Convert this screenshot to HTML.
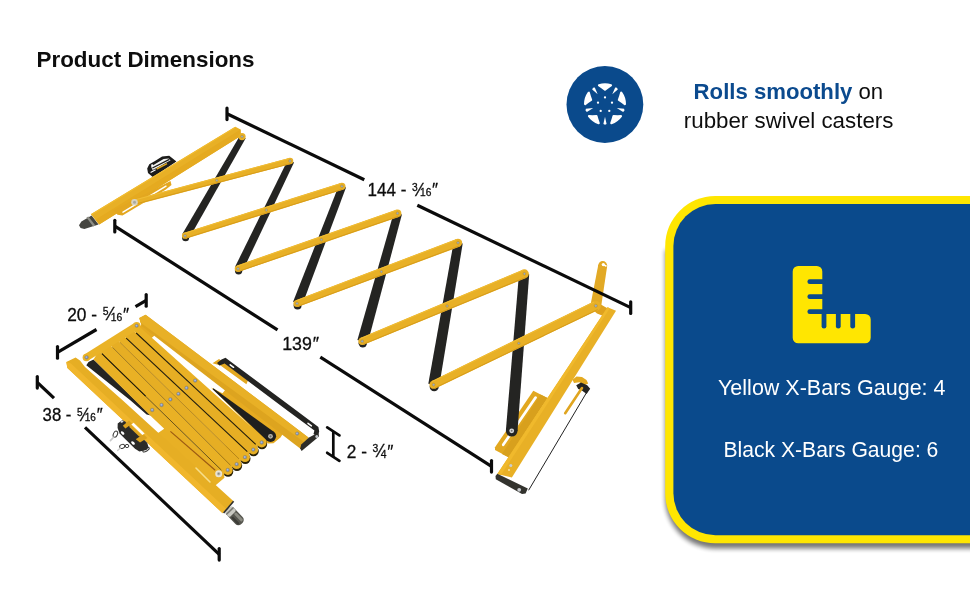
<!DOCTYPE html>
<html lang="en">
<head>
<meta charset="utf-8">
<title>Product Dimensions</title>
<style>
html,body{margin:0;padding:0;background:#fff;}
body{width:970px;height:600px;overflow:hidden;font-family:"Liberation Sans",sans-serif;}
svg{display:block;}
text{font-family:"Liberation Sans",sans-serif;}
</style>
</head>
<body>
<svg width="970" height="600" viewBox="0 0 970 600">
<defs>
<filter id="sh" x="-10%" y="-10%" width="120%" height="130%"><feGaussianBlur stdDeviation="2.6"/></filter>
</defs>
<rect width="970" height="600" fill="#fff"/>
<g style="opacity:0.999">
<!-- parts -->
<text x="36.5" y="66.7" font-size="21.6" font-weight="bold" fill="#0d0d0d" textLength="218" lengthAdjust="spacingAndGlyphs">Product Dimensions</text>
<circle cx="604.9" cy="104.5" r="38.40" fill="#0A4A8C" />
<g transform="translate(605.0 104.3)" fill="#fff">
<path d="M5.98 -18.98 A19.90 19.90 0 0 0 -5.98 -18.98 Q-3.05 -17.13 0.00 -14.60 Q3.05 -17.13 5.98 -18.98 Z" stroke="#fff" stroke-width="2.2" stroke-linejoin="round"/>
<polygon points="-7.3,-10.0 -10.2,-16.8 -12.0,-16.6 -12.8,-14.9" fill="#fff" />
<path d="M-16.20 -11.56 A19.90 19.90 0 0 0 -19.90 -0.17 Q-17.23 -2.39 -13.89 -4.51 Q-15.34 -8.19 -16.20 -11.56 Z" stroke="#fff" stroke-width="2.2" stroke-linejoin="round"/>
<polygon points="-11.8,3.8 -19.1,4.5 -19.5,6.3 -18.1,7.6" fill="#fff" />
<path d="M-16.00 11.84 A19.90 19.90 0 0 0 -6.31 18.87 Q-7.60 15.65 -8.58 11.81 Q-12.53 12.06 -16.00 11.84 Z" stroke="#fff" stroke-width="2.2" stroke-linejoin="round"/>
<polygon points="-0.0,12.4 -1.6,19.6 -0.0,20.5 1.6,19.6" fill="#fff" />
<path d="M6.31 18.87 A19.90 19.90 0 0 0 16.00 11.84 Q12.53 12.06 8.58 11.81 Q7.60 15.65 6.31 18.87 Z" stroke="#fff" stroke-width="2.2" stroke-linejoin="round"/>
<polygon points="11.8,3.8 18.1,7.6 19.5,6.3 19.1,4.5" fill="#fff" />
<path d="M19.90 -0.17 A19.90 19.90 0 0 0 16.20 -11.56 Q15.34 -8.19 13.89 -4.51 Q17.23 -2.39 19.90 -0.17 Z" stroke="#fff" stroke-width="2.2" stroke-linejoin="round"/>
<polygon points="7.3,-10.0 12.8,-14.9 12.0,-16.6 10.2,-16.8" fill="#fff" />
<circle cx="0.0" cy="-6.9" r="1.15" fill="#fff" />
<circle cx="7.0" cy="-1.6" r="1.15" fill="#fff" />
<circle cx="-7.0" cy="-1.6" r="1.15" fill="#fff" />
<circle cx="-4.3" cy="6.6" r="1.15" fill="#fff" />
<circle cx="4.3" cy="6.6" r="1.15" fill="#fff" />
</g>
<text x="693.6" y="99.2" font-size="22" fill="#0d0d0d" textLength="189.6" lengthAdjust="spacingAndGlyphs"><tspan font-weight="bold" fill="#0B4A8E">Rolls smoothly</tspan> on</text>
<text x="683.8" y="128.2" font-size="22" fill="#0d0d0d" textLength="209.6" lengthAdjust="spacingAndGlyphs">rubber swivel casters</text>
<path d="M1000 548.4 H716.5 A50 50 0 0 1 665.4 497 V250 H1000 Z" fill="#000" opacity="0.55" filter="url(#sh)"/>
<path d="M1000 196 H715.2 A50 50 0 0 0 665.2 246 V493.3 A50 50 0 0 0 715.2 543.3 H1000 Z" fill="#FFE600"/>
<path d="M1000 204 H715.4 A42 42 0 0 0 673.4 246 V493.2 A42 42 0 0 0 715.4 535.2 H1000 Z" fill="#0A4A8C"/>
<path d="M798.2 266 H816.8 A5.5 5.5 0 0 1 822.3 271.5 V314 H865.2 A5.5 5.5 0 0 1 870.7 319.5 V337.8 A5.5 5.5 0 0 1 865.2 343.3 H798.2 A5.5 5.5 0 0 1 792.7 337.8 V271.5 A5.5 5.5 0 0 1 798.2 266 Z" fill="#FFE600"/>
<line x1="809.8" y1="281.7" x2="823.0" y2="281.7" stroke="#0A4A8C" stroke-width="4.80" stroke-linecap="round"/>
<line x1="809.8" y1="296.7" x2="823.0" y2="296.7" stroke="#0A4A8C" stroke-width="4.80" stroke-linecap="round"/>
<line x1="809.8" y1="311.7" x2="823.0" y2="311.7" stroke="#0A4A8C" stroke-width="4.80" stroke-linecap="round"/>
<line x1="824.0" y1="313.0" x2="824.0" y2="326.2" stroke="#0A4A8C" stroke-width="4.80" stroke-linecap="round"/>
<line x1="838.3" y1="313.0" x2="838.3" y2="326.2" stroke="#0A4A8C" stroke-width="4.80" stroke-linecap="round"/>
<line x1="852.7" y1="313.0" x2="852.7" y2="326.2" stroke="#0A4A8C" stroke-width="4.80" stroke-linecap="round"/>
<text x="718" y="395" font-size="22.8" fill="#fff" textLength="227.5" lengthAdjust="spacingAndGlyphs">Yellow X-Bars Gauge: 4</text>
<text x="723.4" y="457.3" font-size="22.8" fill="#fff" textLength="215" lengthAdjust="spacingAndGlyphs">Black X-Bars Gauge: 6</text>
<!-- gate1 -->
<polygon points="533.3,390.8 547.5,398.0 509.0,457.5 495.0,450.0 495.0,447.3" fill="#E2A820" />
<polygon points="540.5,394.5 547.5,398.0 509.0,457.5 502.0,454.0" fill="#D8A01D" />
<line x1="535.6" y1="397.6" x2="503.2" y2="444.8" stroke="#fff" stroke-width="2.70" stroke-linecap="round"/>
<polygon points="240.3,135.0 182.5,233.7 189.5,237.7 245.7,138.2" fill="#242422" />
<polygon points="288.0,159.6 235.1,266.8 242.9,270.6 294.0,162.4" fill="#242422" />
<polygon points="339.0,185.0 293.1,301.8 302.1,305.2 346.0,187.6" fill="#242422" />
<polygon points="393.9,212.2 357.4,339.9 367.8,342.7 401.9,214.4" fill="#242422" />
<polygon points="453.7,242.0 428.3,383.8 439.3,385.6 462.7,243.6" fill="#242422" />
<polygon points="519.0,273.4 505.9,430.3 517.5,431.3 529.2,274.2" fill="#242422" />
<circle cx="511.7" cy="430.8" r="5.80" fill="#242422" />
<polygon points="147.2,168.4 149.3,164.2 155.0,161.0 162.1,156.4 169.2,155.8 172.4,158.3 176.4,161.6 153.0,177.2 148.0,172.9" fill="#1c1c1b" />
<polygon points="151.0,166.6 156.0,163.6 163.6,159.0 168.6,158.6 170.6,160.2 158.0,167.2 152.6,170.0" fill="#f4f4f2" />
<line x1="152.4" y1="168.0" x2="169.4" y2="159.4" stroke="#1c1c1b" stroke-width="1.30" stroke-linecap="butt"/>
<circle cx="152.2" cy="165.3" r="1.10" fill="#fff" />
<line x1="156.6" y1="169.0" x2="167.0" y2="163.6" stroke="#E2A820" stroke-width="1.50" stroke-linecap="butt"/>
<line x1="150.6" y1="172.6" x2="155.6" y2="169.8" stroke="#fff" stroke-width="1.20" stroke-linecap="butt"/>
<polygon points="91.6,215.4 98.6,224.6 84.4,228.9 80.6,228.0 79.0,225.2 81.4,221.6" fill="#454540" />
<polygon points="88.4,216.6 95.4,225.6 93.2,226.4 86.4,217.6" fill="#8e8e86" />
<polygon points="235.4,126.7 240.6,129.6 240.8,136.5 237.0,138.2 99.2,224.4 90.8,214.2" fill="#E8B026" />
<polygon points="240.6,129.6 240.8,136.5 237.0,138.2 99.2,224.4 95.4,219.8" fill="#E5AA20" />
<line x1="235.4" y1="127.2" x2="91.5" y2="214.4" stroke="#F2BC30" stroke-width="1.20" stroke-linecap="butt"/>
<polygon points="113.5,210.3 170.5,181.0 171.5,185.0 165.5,189.8 122.5,215.5 117.5,214.8" fill="#E3A720" />
<line x1="123.0" y1="212.2" x2="166.0" y2="186.2" stroke="#fff" stroke-width="1.50" stroke-linecap="round"/>
<polygon points="592.5,309.5 600.0,304.0 609.5,309.5 604.5,316.5 597.0,313.5" fill="#DFA21E" />
<polygon points="601.1,306.7 607.1,266.4 598.3,264.8 590.5,304.9" fill="#E2A925" />
<circle cx="595.8" cy="305.8" r="5.40" fill="#E2A925" />
<circle cx="602.7" cy="265.6" r="4.50" fill="#E2A925" />
<circle cx="603.3" cy="264.6" r="1.60" fill="#fff" />
<line x1="603.3" y1="264.6" x2="606.5" y2="266.2" stroke="#fff" stroke-width="1.60" stroke-linecap="butt"/>
<polygon points="607.5,307.3 616.0,310.8 511.9,477.4 497.3,474.0" fill="#E8B026" />
<polygon points="607.5,307.3 609.8,308.3 501.0,474.9 497.3,474.0" fill="#F0B92C" />
<line x1="587.2" y1="391.5" x2="528.6" y2="490.3" stroke="#222" stroke-width="1.00" stroke-linecap="butt"/>
<polygon points="572.5,379.8 576.5,376.4 582.0,377.0 586.5,380.0 588.2,383.6 584.0,385.4 579.5,382.2 574.0,383.0" fill="#E4AA21" />
<polygon points="576.2,385.2 581.0,382.4 587.2,385.2 590.2,388.8 586.6,394.0 581.6,390.2 578.2,389.0" fill="#252523" />
<line x1="582.0" y1="388.0" x2="565.2" y2="413.2" stroke="#E0A520" stroke-width="2.60" stroke-linecap="round"/>
<polygon points="497.3,473.8 527.8,488.6 525.6,493.6 522.0,494.0 495.8,479.2 495.5,476.0" fill="#33332e" />
<circle cx="519.2" cy="489.8" r="1.90" fill="#c9ccd0" />
<circle cx="510.8" cy="465.6" r="1.50" fill="#c9ccd0" />
<circle cx="509.0" cy="470.0" r="0.90" fill="#f6e7b0" />
<polygon points="135.2,204.9 290.8,164.1 289.2,157.9 133.8,199.5" fill="#E8B026" />
<circle cx="134.5" cy="202.2" r="2.80" fill="#E8B026" />
<circle cx="290.0" cy="161.0" r="3.25" fill="#E8B026" />
<line x1="135.0" y1="204.2" x2="290.7" y2="163.5" stroke="#D79C1A" stroke-width="1.00" stroke-linecap="butt"/>
<line x1="134.0" y1="200.2" x2="289.3" y2="158.5" stroke="#F1BD34" stroke-width="1.00" stroke-linecap="butt"/>
<circle cx="185.6" cy="237.7" r="3.50" fill="#242422" />
<polygon points="185.9,238.7 343.0,189.7 340.8,182.9 184.1,232.7" fill="#E8B026" />
<circle cx="185.0" cy="235.7" r="3.10" fill="#E8B026" />
<circle cx="341.9" cy="186.3" r="3.60" fill="#E8B026" />
<line x1="185.7" y1="238.0" x2="342.8" y2="189.1" stroke="#D79C1A" stroke-width="1.00" stroke-linecap="butt"/>
<line x1="184.3" y1="233.4" x2="341.0" y2="183.5" stroke="#F1BD34" stroke-width="1.00" stroke-linecap="butt"/>
<circle cx="238.6" cy="270.7" r="3.70" fill="#242422" />
<polygon points="239.1,271.8 398.8,216.9 396.2,209.7 236.9,265.6" fill="#E8B026" />
<circle cx="238.0" cy="268.7" r="3.30" fill="#E8B026" />
<circle cx="397.5" cy="213.3" r="3.85" fill="#E8B026" />
<line x1="238.9" y1="271.2" x2="398.5" y2="216.3" stroke="#D79C1A" stroke-width="1.00" stroke-linecap="butt"/>
<line x1="237.1" y1="266.2" x2="396.5" y2="210.3" stroke="#F1BD34" stroke-width="1.00" stroke-linecap="butt"/>
<circle cx="297.6" cy="305.5" r="3.95" fill="#242422" />
<polygon points="298.3,306.8 459.5,246.7 456.5,238.9 295.7,300.2" fill="#E8B026" />
<circle cx="297.0" cy="303.5" r="3.55" fill="#E8B026" />
<circle cx="458.0" cy="242.8" r="4.15" fill="#E8B026" />
<line x1="298.0" y1="306.2" x2="459.2" y2="246.0" stroke="#D79C1A" stroke-width="1.00" stroke-linecap="butt"/>
<line x1="296.0" y1="300.8" x2="456.8" y2="239.6" stroke="#F1BD34" stroke-width="1.00" stroke-linecap="butt"/>
<circle cx="362.8" cy="343.3" r="4.20" fill="#242422" />
<polygon points="363.7,344.8 526.1,277.9 522.7,269.7 360.7,337.8" fill="#E8B026" />
<circle cx="362.2" cy="341.3" r="3.80" fill="#E8B026" />
<circle cx="524.4" cy="273.8" r="4.45" fill="#E8B026" />
<line x1="363.4" y1="344.2" x2="525.8" y2="277.3" stroke="#D79C1A" stroke-width="1.00" stroke-linecap="butt"/>
<line x1="361.0" y1="338.4" x2="523.0" y2="270.3" stroke="#F1BD34" stroke-width="1.00" stroke-linecap="butt"/>
<circle cx="434.2" cy="386.7" r="4.55" fill="#242422" />
<polygon points="435.4,388.4 597.9,310.2 593.7,301.4 431.8,381.0" fill="#E8B026" />
<circle cx="433.6" cy="384.7" r="4.15" fill="#E8B026" />
<circle cx="595.8" cy="305.8" r="4.90" fill="#E8B026" />
<line x1="435.1" y1="387.8" x2="597.6" y2="309.6" stroke="#D79C1A" stroke-width="1.00" stroke-linecap="butt"/>
<line x1="432.1" y1="381.6" x2="594.0" y2="302.0" stroke="#F1BD34" stroke-width="1.00" stroke-linecap="butt"/>
<circle cx="242.0" cy="136.6" r="3.60" fill="#E8B026" />
<circle cx="134.5" cy="202.2" r="3.30" fill="#d8d2c0" />
<circle cx="134.5" cy="202.2" r="1.50" fill="#a9a9a0" />
<circle cx="511.7" cy="430.8" r="2.40" fill="#d9dadb" />
<circle cx="511.7" cy="430.8" r="1.00" fill="#777" />
<circle cx="242.0" cy="136.6" r="1.40" fill="#98a8c2" stroke="#c9981c" stroke-width="0.7"/>
<circle cx="185.0" cy="235.7" r="1.50" fill="#98a8c2" stroke="#c9981c" stroke-width="0.7"/>
<circle cx="290.0" cy="161.0" r="1.40" fill="#98a8c2" stroke="#c9981c" stroke-width="0.7"/>
<circle cx="238.0" cy="268.7" r="1.50" fill="#98a8c2" stroke="#c9981c" stroke-width="0.7"/>
<circle cx="341.9" cy="186.3" r="1.40" fill="#98a8c2" stroke="#c9981c" stroke-width="0.7"/>
<circle cx="297.0" cy="303.5" r="1.50" fill="#98a8c2" stroke="#c9981c" stroke-width="0.7"/>
<circle cx="397.5" cy="213.3" r="1.40" fill="#98a8c2" stroke="#c9981c" stroke-width="0.7"/>
<circle cx="362.2" cy="341.3" r="1.50" fill="#98a8c2" stroke="#c9981c" stroke-width="0.7"/>
<circle cx="458.0" cy="242.8" r="1.40" fill="#98a8c2" stroke="#c9981c" stroke-width="0.7"/>
<circle cx="433.6" cy="384.7" r="1.50" fill="#98a8c2" stroke="#c9981c" stroke-width="0.7"/>
<circle cx="524.4" cy="273.8" r="1.40" fill="#98a8c2" stroke="#c9981c" stroke-width="0.7"/>
<circle cx="595.8" cy="305.8" r="1.60" fill="#98a8c2" stroke="#c9981c" stroke-width="0.7"/>
<circle cx="216.8" cy="180.4" r="1.30" fill="#98a8c2" stroke="#c9981c" stroke-width="0.7"/>
<circle cx="266.3" cy="210.1" r="1.30" fill="#98a8c2" stroke="#c9981c" stroke-width="0.7"/>
<circle cx="321.4" cy="239.7" r="1.30" fill="#98a8c2" stroke="#c9981c" stroke-width="0.7"/>
<circle cx="381.4" cy="271.7" r="1.30" fill="#98a8c2" stroke="#c9981c" stroke-width="0.7"/>
<circle cx="447.1" cy="306.0" r="1.30" fill="#98a8c2" stroke="#c9981c" stroke-width="0.7"/>
<circle cx="518.8" cy="343.3" r="1.30" fill="#98a8c2" stroke="#c9981c" stroke-width="0.7"/>
<!-- gate2 -->
<polygon points="212.5,363.2 219.0,359.0 222.0,361.0 248.0,380.6 246.4,384.2 220.5,365.5" fill="#E3A820" />
<polygon points="221.5,359.4 225.5,357.8 318.4,427.0 319.2,431.5 317.5,436.5 313.5,434.0 314.4,430.6 224.6,363.6 219.5,365.6 217.0,363.0" fill="#242422" />
<line x1="230.2" y1="364.8" x2="233.6" y2="367.3" stroke="#fff" stroke-width="1.50" stroke-linecap="round"/>
<line x1="308.0" y1="423.3" x2="311.4" y2="425.9" stroke="#fff" stroke-width="1.50" stroke-linecap="round"/>
<polygon points="211.0,387.5 222.5,393.2 226.0,389.0 284.0,432.0 280.5,437.5 273.5,443.3 268.0,443.5" fill="#E6AB21" />
<polygon points="138.6,327.6 142.0,324.0 154.5,335.4 151.0,338.6" fill="#E4A921" />
<polygon points="139.3,317.9 145.6,314.8 308.4,437.4 301.8,449.8 141.6,326.0" fill="#DDA41F" />
<polygon points="139.3,317.9 145.6,314.8 308.4,437.4 305.4,443.0 140.4,322.6" fill="#E8B026" />
<polygon points="301.2,444.4 309.0,437.6 318.4,432.4 319.0,436.4 301.6,451.0 300.2,448.4" fill="#2d2c28" />
<circle cx="316.8" cy="436.6" r="1.50" fill="#c3c7cc" />
<circle cx="297.2" cy="433.6" r="1.80" fill="#6f84ba" stroke="#c29a2a" stroke-width="0.6"/>
<circle cx="297.0" cy="433.4" r="0.90" fill="#aebbd6" />
<polygon points="86.3,365.3 88.5,362.0 93.5,359.4 151.0,415.6 146.6,414.6 130.3,400.2" fill="#242422" />
<polygon points="138.2,325.6 265.0,438.9 257.5,446.1 133.2,330.2" fill="#E9B125" />
<polygon points="133.2,330.2 257.5,446.1 249.2,453.4 123.2,335.3" fill="#E6AE24" />
<polygon points="123.2,335.3 249.2,453.4 240.8,460.7 117.0,339.4" fill="#E9B125" />
<polygon points="117.0,339.4 240.8,460.7 232.2,467.1 109.5,344.4" fill="#E6AE24" />
<polygon points="109.5,344.4 232.2,467.1 223.2,471.9 98.9,350.7" fill="#E9B125" />
<polygon points="98.9,350.7 223.2,471.9 224.5,477.8 213.0,487.5 156.5,433.8 158.8,432.4 164.2,428.8 150.2,415.4 93.5,359.4" fill="#E8B025" />
<circle cx="262.0" cy="444.0" r="5.20" fill="#2a2208" />
<circle cx="253.6" cy="451.1" r="5.20" fill="#2a2208" />
<circle cx="245.3" cy="458.7" r="5.20" fill="#2a2208" />
<circle cx="237.0" cy="465.7" r="5.20" fill="#2a2208" />
<circle cx="228.1" cy="471.5" r="5.20" fill="#2a2208" />
<circle cx="261.7" cy="442.5" r="4.90" fill="#E9B125" />
<polygon points="250.2,425.7 265.0,438.9 262.4,443.2 257.5,446.1 242.9,432.5" fill="#E9B125" />
<circle cx="253.3" cy="449.6" r="4.90" fill="#E6AE24" />
<polygon points="242.9,432.5 257.5,446.1 254.0,450.3 249.2,453.4 234.4,439.6" fill="#E6AE24" />
<circle cx="245.0" cy="457.2" r="4.90" fill="#E9B125" />
<polygon points="234.4,439.6 249.2,453.4 245.7,457.9 240.8,460.7 226.3,446.5" fill="#E9B125" />
<circle cx="236.7" cy="464.2" r="4.90" fill="#E6AE24" />
<polygon points="226.3,446.5 240.8,460.7 237.4,464.9 232.2,467.1 217.9,452.7" fill="#E6AE24" />
<circle cx="227.8" cy="470.0" r="4.90" fill="#E9B125" />
<polygon points="217.9,452.7 232.2,467.1 228.5,470.7 223.2,471.9 208.7,457.7" fill="#E9B125" />
<circle cx="218.7" cy="473.7" r="5.60" fill="#E8B025" />
<line x1="136.2" y1="333.0" x2="255.7" y2="444.4" stroke="#211b08" stroke-width="1.10" stroke-linecap="butt"/>
<line x1="126.2" y1="338.2" x2="247.3" y2="451.7" stroke="#211b08" stroke-width="1.10" stroke-linecap="butt"/>
<line x1="120.0" y1="342.4" x2="239.0" y2="458.9" stroke="#a87a14" stroke-width="0.80" stroke-linecap="butt"/>
<line x1="112.5" y1="347.4" x2="230.5" y2="465.3" stroke="#8a6612" stroke-width="0.80" stroke-linecap="butt"/>
<line x1="101.9" y1="353.7" x2="221.4" y2="470.1" stroke="#5a450e" stroke-width="0.90" stroke-linecap="butt"/>
<line x1="101.9" y1="353.7" x2="145.6" y2="396.2" stroke="#211b08" stroke-width="1.10" stroke-linecap="butt"/>
<polygon points="212.6,389.3 266.9,440.6 274.1,432.0 213.4,388.3" fill="#1f1f1e" />
<circle cx="270.5" cy="436.3" r="5.60" fill="#1f1f1e" />
<circle cx="270.5" cy="436.3" r="2.40" fill="#b9b6ac" />
<circle cx="270.5" cy="436.3" r="1.10" fill="#6a6a66" />
<polygon points="88.3,360.6 138.7,328.9 134.7,322.7 84.3,354.4" fill="#EAB327" />
<circle cx="86.3" cy="357.5" r="3.70" fill="#EAB327" />
<circle cx="136.7" cy="325.8" r="3.70" fill="#EAB327" />
<circle cx="86.6" cy="357.3" r="1.90" fill="#6f84ba" stroke="#c29a2a" stroke-width="0.6"/>
<circle cx="86.4" cy="357.1" r="0.95" fill="#aebbd6" />
<circle cx="136.7" cy="325.8" r="1.80" fill="#6f84ba" stroke="#c29a2a" stroke-width="0.6"/>
<circle cx="136.5" cy="325.6" r="0.90" fill="#aebbd6" />
<line x1="170.4" y1="431.4" x2="215.2" y2="470.2" stroke="#9c5a12" stroke-width="1.20" stroke-linecap="butt"/>
<polygon points="66.3,361.9 75.6,357.4 80.0,360.4 85.0,367.1 122.3,400.0 216.2,485.6 233.3,501.0 222.6,513.3 67.4,367.9" fill="#E6AE24" />
<polygon points="66.3,361.9 67.4,367.9 222.6,513.3 226.4,509.0 71.0,363.6" fill="#F0B62C" />
<line x1="196.0" y1="468.0" x2="210.0" y2="482.0" stroke="#f7de8a" stroke-width="1.60" stroke-linecap="round"/>
<g transform="translate(235.3 516.6) rotate(46)">
<rect x="-10.5" y="-5.0" width="20" height="10" rx="4.2" fill="#55554e"/>
<rect x="-10.5" y="-5.0" width="7.0" height="10" rx="2" fill="#c9c9c2"/>
<rect x="-8.6" y="-5.0" width="1.6" height="10" fill="#77776f"/>
<rect x="-3.0" y="-3.6" width="11.0" height="3.0" rx="1.5" fill="#8b8b82"/>
<rect x="-2.0" y="1.6" width="10.0" height="2.4" rx="1.2" fill="#3c3c37"/>
</g>
<line x1="223.6" y1="513.0" x2="233.6" y2="501.2" stroke="#2c2c2a" stroke-width="1.60" stroke-linecap="butt"/>
<ellipse cx="115.4" cy="434.2" rx="2.0" ry="3.2" transform="rotate(25 115.4 434.2)" fill="none" stroke="#3a3a38" stroke-width="1.0"/>
<ellipse cx="122.2" cy="446.4" rx="2.6" ry="1.9" transform="rotate(-20 122.2 446.4)" fill="none" stroke="#3a3a38" stroke-width="1.0"/>
<ellipse cx="127.0" cy="446.0" rx="1.8" ry="1.6" transform="rotate(0 127.0 446.0)" fill="none" stroke="#3a3a38" stroke-width="1.0"/>
<ellipse cx="146.0" cy="449.6" rx="3.6" ry="1.6" transform="rotate(-30 146.0 449.6)" fill="none" stroke="#3a3a38" stroke-width="1.0"/>
<line x1="113.8" y1="437.0" x2="110.4" y2="440.6" stroke="#c9c9c9" stroke-width="1.60" stroke-linecap="round"/>
<line x1="120.4" y1="448.0" x2="117.6" y2="450.6" stroke="#cfcfcf" stroke-width="1.40" stroke-linecap="round"/>
<polygon points="117.7,423.6 122.4,419.9 125.0,421.6 147.2,442.8 148.6,447.6 146.4,450.0 139.4,451.4 135.0,448.8 119.6,433.6 117.6,428.0" fill="#2b2b29" />
<ellipse cx="122.6" cy="433.0" rx="2.1" ry="1.2" transform="rotate(42 122.6 433.0)" fill="#fff"/>
<ellipse cx="133.0" cy="443.0" rx="2.2" ry="1.3" transform="rotate(42 133.0 443.0)" fill="#fff"/>
<ellipse cx="122.0" cy="421.6" rx="1.6" ry="0.9" transform="rotate(-25 122.0 421.6)" fill="#ddd"/>
<polygon points="122.8,425.8 129.0,420.6 132.0,423.8 125.4,428.6" fill="#DDA31E" />
<polygon points="135.8,439.3 143.4,434.0 147.4,438.0 140.0,442.4" fill="#DDA31E" />
<polygon points="129.0,426.8 131.2,425.0 141.8,435.2 139.4,436.8" fill="#E0A61F" />
<polygon points="131.4,424.4 133.6,422.8 144.6,433.4 142.4,435.0" fill="#fff" />
<circle cx="195.2" cy="380.6" r="1.90" fill="#6f84ba" stroke="#c29a2a" stroke-width="0.6"/>
<circle cx="195.1" cy="380.4" r="0.95" fill="#aebbd6" />
<circle cx="186.5" cy="387.9" r="1.90" fill="#6f84ba" stroke="#c29a2a" stroke-width="0.6"/>
<circle cx="186.3" cy="387.7" r="0.95" fill="#aebbd6" />
<circle cx="178.4" cy="393.8" r="1.90" fill="#6f84ba" stroke="#c29a2a" stroke-width="0.6"/>
<circle cx="178.2" cy="393.6" r="0.95" fill="#aebbd6" />
<circle cx="170.4" cy="399.4" r="1.90" fill="#6f84ba" stroke="#c29a2a" stroke-width="0.6"/>
<circle cx="170.2" cy="399.2" r="0.95" fill="#aebbd6" />
<circle cx="161.6" cy="405.0" r="1.90" fill="#6f84ba" stroke="#c29a2a" stroke-width="0.6"/>
<circle cx="161.4" cy="404.8" r="0.95" fill="#aebbd6" />
<circle cx="152.2" cy="410.0" r="1.90" fill="#6f84ba" stroke="#c29a2a" stroke-width="0.6"/>
<circle cx="152.1" cy="409.8" r="0.95" fill="#aebbd6" />
<circle cx="261.7" cy="442.5" r="1.90" fill="#6f84ba" stroke="#c29a2a" stroke-width="0.6"/>
<circle cx="261.5" cy="442.3" r="0.95" fill="#aebbd6" />
<circle cx="253.3" cy="449.6" r="1.90" fill="#6f84ba" stroke="#c29a2a" stroke-width="0.6"/>
<circle cx="253.1" cy="449.4" r="0.95" fill="#aebbd6" />
<circle cx="245.0" cy="457.2" r="1.90" fill="#6f84ba" stroke="#c29a2a" stroke-width="0.6"/>
<circle cx="244.8" cy="457.0" r="0.95" fill="#aebbd6" />
<circle cx="236.7" cy="464.2" r="1.90" fill="#6f84ba" stroke="#c29a2a" stroke-width="0.6"/>
<circle cx="236.5" cy="464.0" r="0.95" fill="#aebbd6" />
<circle cx="227.8" cy="470.0" r="1.90" fill="#6f84ba" stroke="#c29a2a" stroke-width="0.6"/>
<circle cx="227.6" cy="469.8" r="0.95" fill="#aebbd6" />
<circle cx="218.7" cy="473.7" r="3.50" fill="#e9e3d3" />
<circle cx="218.7" cy="473.7" r="1.80" fill="#b4b4ae" />
<circle cx="218.7" cy="473.7" r="0.80" fill="#80807a" />
<!-- dims -->
<line x1="227.0" y1="108.0" x2="227.0" y2="119.6" stroke="#0b0b0b" stroke-width="3.20" stroke-linecap="round"/>
<line x1="630.7" y1="301.8" x2="630.7" y2="313.4" stroke="#0b0b0b" stroke-width="3.20" stroke-linecap="round"/>
<line x1="227.0" y1="113.8" x2="364.3" y2="179.7" stroke="#0b0b0b" stroke-width="3.20" stroke-linecap="butt"/>
<line x1="417.3" y1="205.2" x2="630.7" y2="307.6" stroke="#0b0b0b" stroke-width="3.20" stroke-linecap="butt"/>
<line x1="114.8" y1="220.3" x2="114.8" y2="231.9" stroke="#0b0b0b" stroke-width="3.20" stroke-linecap="round"/>
<line x1="491.5" y1="460.5" x2="491.5" y2="472.1" stroke="#0b0b0b" stroke-width="3.20" stroke-linecap="round"/>
<line x1="114.8" y1="226.1" x2="277.5" y2="329.8" stroke="#0b0b0b" stroke-width="3.20" stroke-linecap="butt"/>
<line x1="320.3" y1="357.1" x2="491.5" y2="466.3" stroke="#0b0b0b" stroke-width="3.20" stroke-linecap="butt"/>
<line x1="57.5" y1="346.6" x2="57.5" y2="358.2" stroke="#0b0b0b" stroke-width="3.20" stroke-linecap="round"/>
<line x1="146.2" y1="294.6" x2="146.2" y2="306.2" stroke="#0b0b0b" stroke-width="3.20" stroke-linecap="round"/>
<line x1="57.5" y1="352.4" x2="96.5" y2="329.5" stroke="#0b0b0b" stroke-width="3.20" stroke-linecap="butt"/>
<line x1="135.5" y1="306.7" x2="146.2" y2="300.4" stroke="#0b0b0b" stroke-width="3.20" stroke-linecap="butt"/>
<line x1="37.3" y1="376.5" x2="37.3" y2="388.1" stroke="#0b0b0b" stroke-width="3.20" stroke-linecap="round"/>
<line x1="219.2" y1="548.5" x2="219.2" y2="560.1" stroke="#0b0b0b" stroke-width="3.20" stroke-linecap="round"/>
<line x1="37.3" y1="382.3" x2="54.0" y2="398.1" stroke="#0b0b0b" stroke-width="3.20" stroke-linecap="butt"/>
<line x1="85.0" y1="427.4" x2="219.2" y2="554.3" stroke="#0b0b0b" stroke-width="3.20" stroke-linecap="butt"/>
<line x1="333.3" y1="431.0" x2="333.3" y2="457.0" stroke="#0b0b0b" stroke-width="2.70" stroke-linecap="butt"/>
<line x1="327.2" y1="427.4" x2="339.4" y2="435.4" stroke="#0b0b0b" stroke-width="2.80" stroke-linecap="round"/>
<line x1="327.2" y1="452.8" x2="339.4" y2="460.8" stroke="#0b0b0b" stroke-width="2.80" stroke-linecap="round"/>
<text x="367.6" y="196.0" font-size="18.0" fill="#0d0d0d" stroke="#0d0d0d" stroke-width="0.3" textLength="70.5" lengthAdjust="spacingAndGlyphs"><tspan>144 - </tspan><tspan font-size="10.8" dy="-5.3" dx="0.9">3</tspan><tspan font-size="18.7" dy="4.8" dx="0.9">⁄</tspan><tspan font-size="10.8" dy="0.5" dx="-1.6">16</tspan><tspan font-size="18.0" dy="0" dx="0.8">″</tspan></text>
<text x="282.2" y="350.0" font-size="18.0" fill="#0d0d0d" stroke="#0d0d0d" stroke-width="0.3" textLength="36.8" lengthAdjust="spacingAndGlyphs"><tspan>139</tspan><tspan font-size="18.0" dy="0" dx="0.8">″</tspan></text>
<text x="67.2" y="320.5" font-size="18.0" fill="#0d0d0d" stroke="#0d0d0d" stroke-width="0.3" textLength="62.0" lengthAdjust="spacingAndGlyphs"><tspan>20 - </tspan><tspan font-size="10.8" dy="-5.3" dx="0.9">5</tspan><tspan font-size="18.7" dy="4.8" dx="0.9">⁄</tspan><tspan font-size="10.8" dy="0.5" dx="-1.6">16</tspan><tspan font-size="18.0" dy="0" dx="0.8">″</tspan></text>
<text x="42.6" y="421.0" font-size="18.0" fill="#0d0d0d" stroke="#0d0d0d" stroke-width="0.3" textLength="60.0" lengthAdjust="spacingAndGlyphs"><tspan>38 - </tspan><tspan font-size="10.8" dy="-5.3" dx="0.9">5</tspan><tspan font-size="18.7" dy="4.8" dx="0.9">⁄</tspan><tspan font-size="10.8" dy="0.5" dx="-1.6">16</tspan><tspan font-size="18.0" dy="0" dx="0.8">″</tspan></text>
<text x="346.8" y="457.7" font-size="18.0" fill="#0d0d0d" stroke="#0d0d0d" stroke-width="0.3" textLength="46.5" lengthAdjust="spacingAndGlyphs"><tspan>2 - </tspan><tspan font-size="10.8" dy="-5.3" dx="0.9">3</tspan><tspan font-size="18.7" dy="4.8" dx="0.9">⁄</tspan><tspan font-size="10.8" dy="0.5" dx="-1.6">4</tspan><tspan font-size="18.0" dy="0" dx="0.8">″</tspan></text>
</g>
</svg>
</body>
</html>
